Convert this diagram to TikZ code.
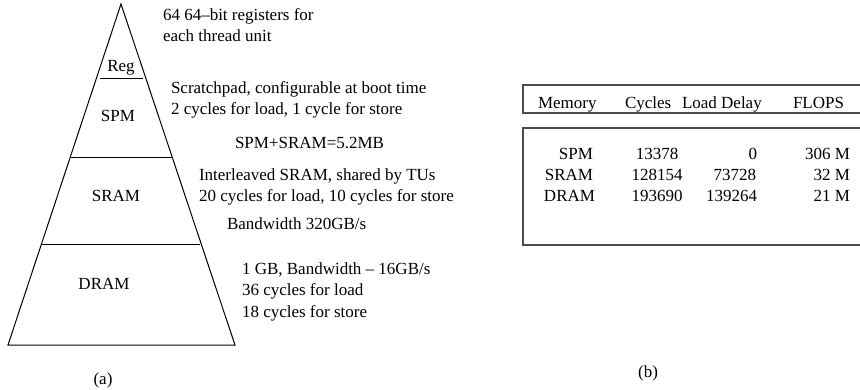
\documentclass[tikz,border=0pt]{standalone}
\usepackage{fontspec}
\setmainfont{Liberation Serif}
\begin{document}
\begin{tikzpicture}[x=1pt,y=-1pt,
  txt/.style={inner sep=0pt,outer sep=0pt,font=\fontsize{17}{21}\selectfont},
  lt/.style={txt,anchor=base west},
  ct/.style={txt,anchor=base},
  rt/.style={txt,anchor=base east},
  pyr/.style={line width=1pt,black},
  tbox/.style={line width=1.2pt,black!70}]
\useasboundingbox (0,0) rectangle (860,389);
% pyramid
\coordinate (apex) at (121,4);
\coordinate (bl) at (8,345);
\coordinate (br) at (235,345);
\draw[pyr] (bl) -- (apex) -- (br) -- cycle;
\coordinate (r1) at (100,78); \coordinate (r2) at (143,78);
\coordinate (s1) at (71,157); \coordinate (s2) at (172,157);
\coordinate (d1) at (42,244); \coordinate (d2) at (200,244);
\draw[pyr] (r1) -- (r2);
\draw[pyr] (s1) -- (s2);
\draw[pyr] (d1) -- (d2);
\node[ct] (reg) at (121,71) {Reg};
\node[ct] (spm) at (118,121) {SPM};
\node[ct] (sram) at (116,201) {SRAM};
\node[ct] (dram) at (104,289) {DRAM};
\node[ct] (capa) at (103,384) {(a)};
% annotations
\node[lt] (a1) at (163,20) {64 64--bit registers for};
\node[lt] (a2) at (163,41) {each thread unit};
\node[lt] (b1) at (171,93) {Scratchpad, configurable at boot time};
\node[lt] (b2) at (171,114) {2 cycles for load, 1 cycle for store};
\node[lt] (c1) at (235,148) {SPM+SRAM=5.2MB};
\node[lt] (d1t) at (199,180) {Interleaved SRAM, shared by TUs};
\node[lt] (d2t) at (199,201) {20 cycles for load, 10 cycles for store};
\node[lt] (e1) at (227,229) {Bandwidth 320GB/s};
\node[lt] (f1) at (242,274) {1 GB, Bandwidth -- 16GB/s};
\node[lt] (f2) at (242,295) {36 cycles for load};
\node[lt] (f3) at (242,317) {18 cycles for store};
% table
\coordinate (h1) at (860,85); \coordinate (h2) at (523,85);
\coordinate (h3) at (523,113); \coordinate (h4) at (860,113);
\draw[tbox] (h1) -- (h2) -- (h3) -- (h4);
\coordinate (g1) at (860,128); \coordinate (g2) at (523,128);
\coordinate (g3) at (523,245); \coordinate (g4) at (860,245);
\draw[tbox] (g1) -- (g2) -- (g3) -- (g4);
\node[lt] (hm) at (538,108) {Memory};
\node[lt] (hc) at (625,108) {Cycles};
\node[lt] (hl) at (682,108) {Load Delay};
\node[lt] (hf) at (793,108) {FLOPS};
\node[rt] (m1) at (593,159) {SPM};
\node[rt] (m2) at (593,180) {SRAM};
\node[rt] (m3) at (595,201) {DRAM};
\node[ct] (c1v) at (657,159) {13378};
\node[ct] (c2v) at (657,180) {128154};
\node[ct] (c3v) at (657,201) {193690};
\node[rt] (l1) at (757,159) {0};
\node[rt] (l2) at (756,180) {73728};
\node[rt] (l3) at (757,201) {139264};
\node[rt] (fl1) at (850,159) {306 M};
\node[rt] (fl2) at (850,180) {32 M};
\node[rt] (fl3) at (850,201) {21 M};
\node[ct] (capb) at (648,377) {(b)};
\end{tikzpicture}
\end{document}
